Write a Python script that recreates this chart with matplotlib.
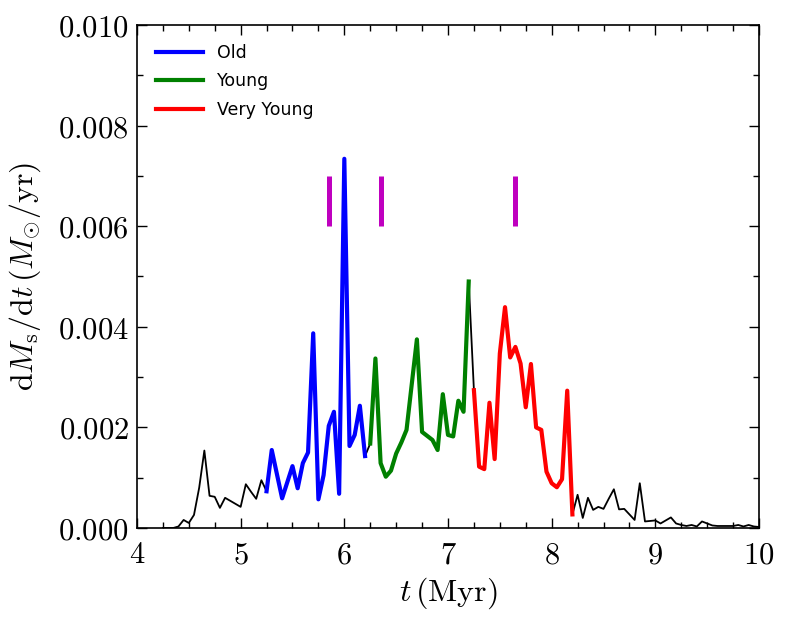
import matplotlib
matplotlib.use('Agg')
import matplotlib.pyplot as plt
from matplotlib.ticker import MultipleLocator, FuncFormatter

plt.rcParams['mathtext.fontset'] = 'cm'
plt.rcParams['font.family'] = 'DejaVu Sans'

# time grid (Myr) and star formation rate (Msun/yr)
t = [4.25, 4.30, 4.35, 4.40, 4.45, 4.50, 4.55, 4.60, 4.65, 4.70, 4.75, 4.80, 4.85, 4.90, 4.95,
     5.00, 5.05, 5.10, 5.15, 5.20, 5.25, 5.30, 5.35, 5.40, 5.45, 5.50, 5.55, 5.60, 5.65, 5.70,
     5.75, 5.80, 5.85, 5.90, 5.95, 6.00, 6.05, 6.10, 6.15, 6.20, 6.25, 6.30, 6.35, 6.40, 6.45,
     6.50, 6.55, 6.60, 6.65, 6.70, 6.75, 6.80, 6.85, 6.90, 6.95, 7.00, 7.05, 7.10, 7.15, 7.20,
     7.25, 7.30, 7.35, 7.40, 7.45, 7.50, 7.55, 7.60, 7.65, 7.70, 7.75, 7.80, 7.85, 7.90, 7.95,
     8.00, 8.05, 8.10, 8.15, 8.20, 8.25, 8.30, 8.35, 8.40, 8.45, 8.50, 8.55, 8.60, 8.65, 8.70,
     8.75, 8.80, 8.85, 8.90, 8.95, 9.00, 9.05, 9.10, 9.15, 9.20, 9.25, 9.30, 9.35, 9.40, 9.45,
     9.50, 9.55, 9.60, 9.65, 9.70, 9.75, 9.80, 9.85, 9.90, 9.95, 10.00]
sfr = [0.0, 0.0, 0.0, 0.00003, 0.00016, 0.0001, 0.00026, 0.0008, 0.00154, 0.00064, 0.00062, 0.0004, 0.0006, 0.00054, 0.00048,
       0.00042, 0.00087, 0.00072, 0.00058, 0.00095, 0.00073, 0.00155, 0.00107, 0.00059, 0.00091, 0.00123, 0.00079, 0.00129, 0.0015, 0.00387,
       0.00057, 0.00105, 0.00203, 0.00231, 0.00068, 0.00734, 0.00163, 0.00185, 0.00243, 0.00143, 0.00168, 0.00337, 0.00129, 0.00102, 0.00114,
       0.00148, 0.0017, 0.00195, 0.00285, 0.00375, 0.00191, 0.00183, 0.00175, 0.00155, 0.00266, 0.00185, 0.00182, 0.00253, 0.00231, 0.0049,
       0.00274, 0.00122, 0.00117, 0.00249, 0.00137, 0.00347, 0.00439, 0.00339, 0.0036, 0.00327, 0.0024, 0.00326, 0.002, 0.00195, 0.00112,
       0.00089, 0.00081, 0.00097, 0.00273, 0.00027, 0.00066, 0.0002, 0.0006, 0.00036, 0.00042, 0.00038, 0.00058, 0.00077, 0.00037, 0.00038,
       0.00027, 0.00016, 0.00089, 0.00013, 0.00014, 0.00015, 0.00009, 0.00015, 0.00021, 0.00009, 0.00006, 0.00004, 0.00006, 0.00003, 0.00013,
       0.00009, 0.00005, 0.00004, 0.00004, 0.00004, 0.00004, 0.00006, 0.00003, 0.00006, 0.00003, 0.00002]

# population windows (start, end in Myr)
windows = [(5.25, 6.20), (6.25, 7.20), (7.25, 8.20)]
labels = ['Old', 'Young', 'Very Young']
colors = ['b', 'g', 'r']

# marker bars
marks = [5.85, 6.35, 7.65]

fig = plt.figure(figsize=(7.89, 6.23), dpi=100)
ax = fig.add_axes([0.1736, 0.1525, 0.7884, 0.8074])

ax.plot(t, sfr, color='k', lw=1.3)
for (t0, t1), lab, c in zip(windows, labels, colors):
    idx = [i for i, tt in enumerate(t) if t0 - 1e-6 <= tt <= t1 + 1e-6]
    ax.plot([t[i] for i in idx], [sfr[i] for i in idx], color=c, lw=3, label=lab)

ax.vlines(marks, 0.006, 0.007, color='m', lw=3.6)

ax.set_xlim(4, 10)
ax.set_ylim(0, 0.010)
ax.xaxis.set_major_locator(MultipleLocator(1))
ax.xaxis.set_minor_locator(MultipleLocator(0.25))
ax.yaxis.set_major_locator(MultipleLocator(0.002))
ax.yaxis.set_minor_locator(MultipleLocator(0.001))
ax.xaxis.set_major_formatter(FuncFormatter(lambda v, p: r'$%d$' % round(v)))
ax.yaxis.set_major_formatter(FuncFormatter(lambda v, p: r'$%.3f$' % v))
ax.tick_params(which='both', direction='in', top=True, right=True, labelsize=22)
ax.tick_params(which='major', length=7, width=1)
ax.tick_params(which='minor', length=4, width=1)
ax.tick_params(axis='x', which='major', pad=9)
ax.tick_params(axis='y', which='major', pad=6)
for s in ax.spines.values():
    s.set_linewidth(1.2)

ax.set_xlabel(r'$t\,(\mathrm{Myr})$', fontsize=23, labelpad=4)
ax.set_ylabel(r'$\mathrm{d}M_{\rm s}/\mathrm{d}t\,(M_{\odot}/\mathrm{yr})$', fontsize=23, labelpad=11)

ax.legend(loc='upper left', frameon=False, fontsize=12.5, handlelength=2.7,
          labelspacing=0.6, borderaxespad=0.7)

fig.savefig('out.png', dpi=100, facecolor='white')
